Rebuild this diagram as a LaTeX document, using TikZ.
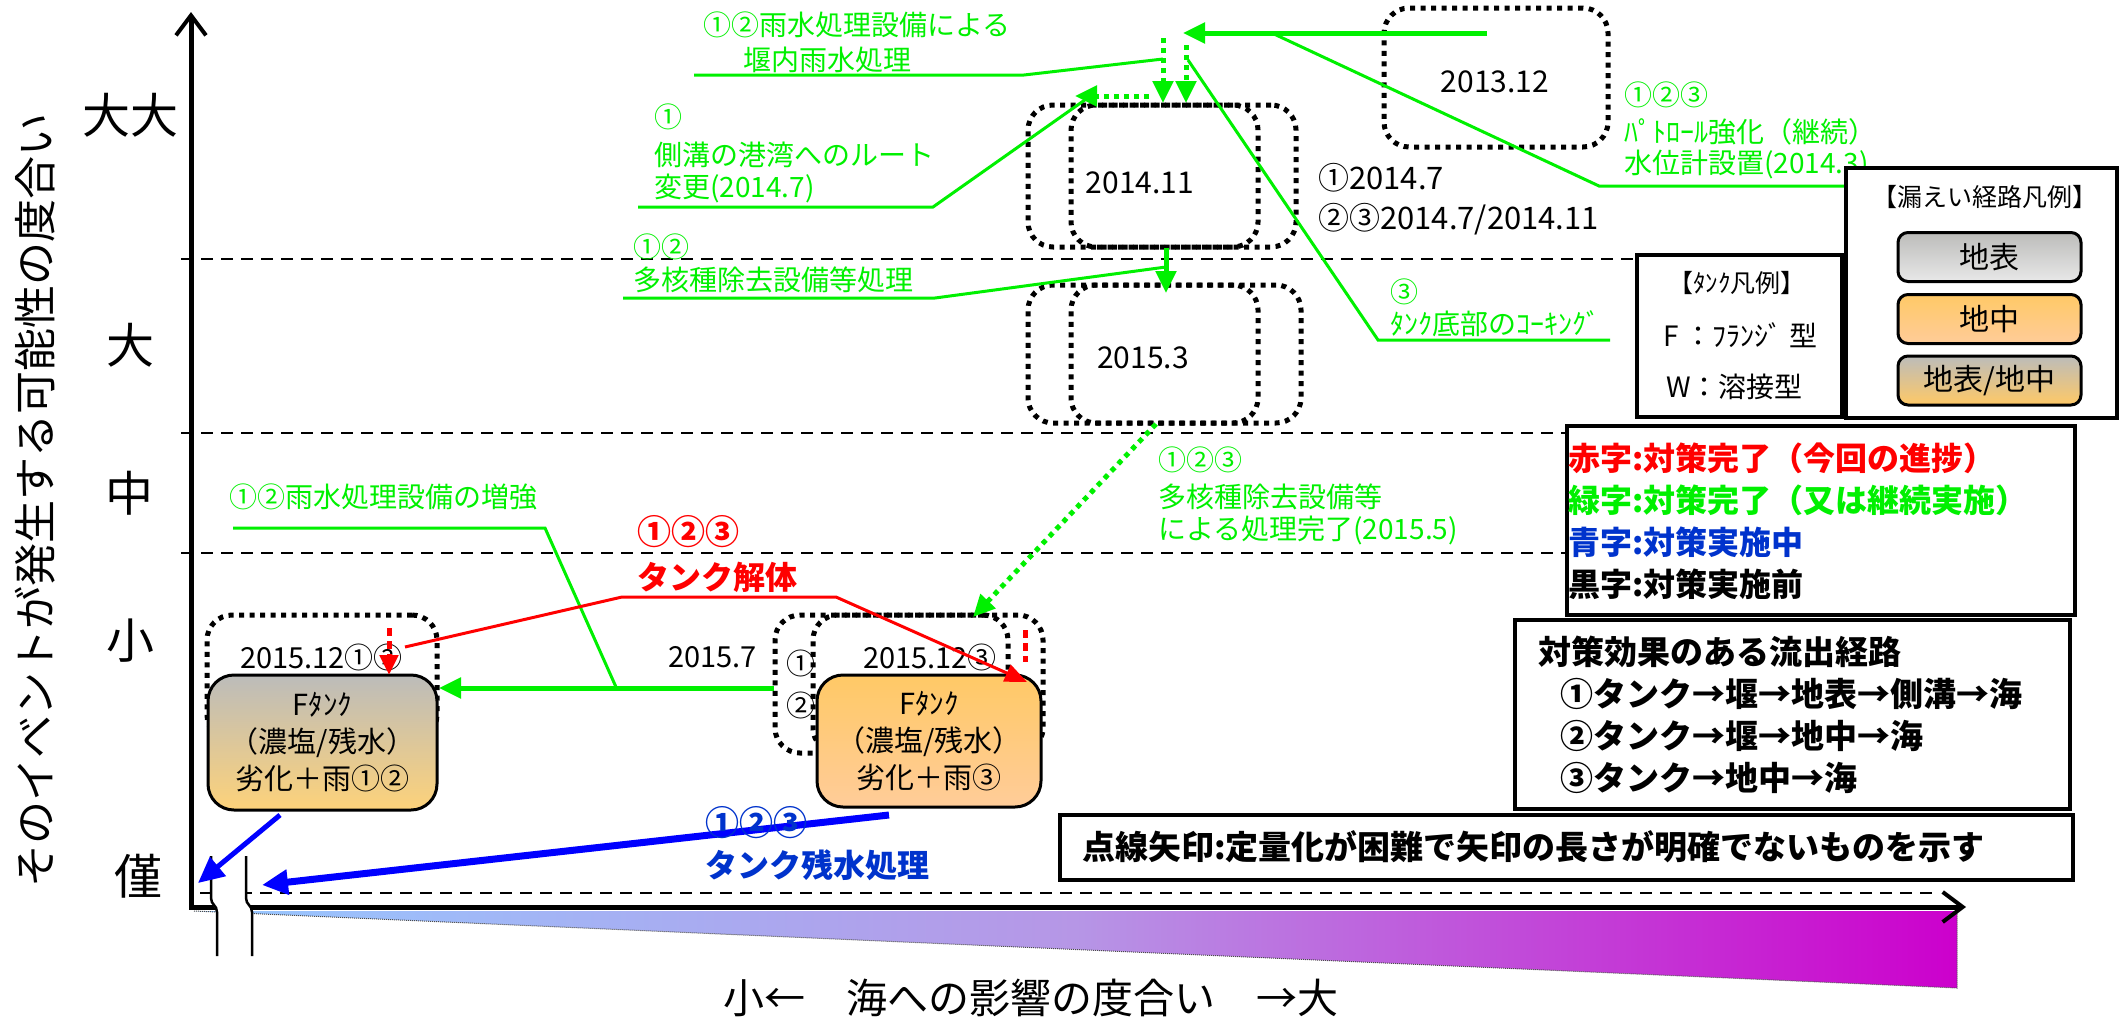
\documentclass[tikz,border=0pt]{standalone}
\usepackage{fontspec}
\setmainfont{Noto Sans CJK JP}
\usetikzlibrary{arrows.meta}
\newcommand{\fsz}[1]{\fontsize{#1}{#1}\selectfont}
\definecolor{grn}{RGB}{0,240,0}
\definecolor{myred}{RGB}{255,0,0}
\definecolor{myblue}{RGB}{0,0,255}
\definecolor{tblue}{RGB}{0,51,204}
\definecolor{gry}{RGB}{188,188,186}
\definecolor{lgry}{RGB}{232,232,232}
\definecolor{org}{RGB}{255,201,102}
\definecolor{peach}{RGB}{255,204,153}
\definecolor{yorg}{RGB}{253,210,122}
\definecolor{gblue}{RGB}{150,200,255}
\definecolor{gmid}{RGB}{182,150,230}
\definecolor{gmag}{RGB}{204,0,204}
\begin{document}
\begin{tikzpicture}[x=1pt,y=-1pt,
 t/.style={inner sep=0pt, anchor=west},
 tc/.style={inner sep=0pt},
 dbox/.style={draw=black, line width=5pt, dash pattern=on 5pt off 5.5pt, rounded corners=25pt, inner sep=0pt},
 lbox/.style={draw=black, line width=3.5pt, inner sep=0pt, fill=white},
 tank/.style={draw=black, line width=3pt, rounded corners=26pt, inner sep=0pt, align=center, font=\fontsize{29}{37}\selectfont},
 sbox/.style={draw=black, line width=3pt, rounded corners=10pt, inner sep=0pt, minimum width=183pt, minimum height=49pt, font=\fsz{30}},
 dsh/.style={line width=2.5pt, dash pattern=on 12pt off 8pt},
 gline/.style={draw=grn, line width=3pt},
 garrow/.style={draw=grn, line width=5pt, -{Triangle[length=22pt,width=20pt]}},
 gdot/.style={draw=grn, line width=5pt, dash pattern=on 5pt off 5pt, -{Triangle[length=22pt,width=20pt]}},
 rline/.style={draw=myred, line width=3pt},
 rdot/.style={draw=myred, line width=5pt, dash pattern=on 8pt off 5pt},
 barrow/.style={draw=myblue, -{Triangle[length=26pt,width=24pt]}}
]
\useasboundingbox (0,0) rectangle (2125,1021);
\fill[white] (0,0) rectangle (2125,1021);

% grid dashed lines
\draw[dsh] (181,259) -- (1637,259);
\draw[dsh] (181,433) -- (1567,433);
\draw[dsh] (181,553) -- (1567,553);
\draw[dsh] (200,893) -- (1932,893);

% gradient wedge
\shade[left color=gblue, right color=gmag, middle color=gmid] (194,911) -- (1957,911) -- (1957,988) -- cycle;
\draw[black!70, line width=1pt, densely dotted] (194,911) -- (1957,988) -- (1957,911);

% axes
\draw[line width=5pt, {Straight Barb[length=20pt,width=30pt,line width=4pt]}-{Straight Barb[length=20pt,width=30pt,line width=4pt]}] (191,12) -- (191,907) -- (1966,907);

% axis break
\fill[white] (210,856) -- (210,898) .. controls (210,905) and (216,905) .. (216,912) -- (216,956) -- (252,956) -- (252,912) .. controls (252,905) and (246,905) .. (246,898) -- (246,856) -- cycle;
\draw[line width=2.5pt] (211,856) -- (211,898) .. controls (211,905) and (217,905) .. (217,912) -- (217,956);
\draw[line width=2.5pt] (246,856) -- (246,898) .. controls (246,905) and (252,905) .. (252,912) -- (252,956);

% axis texts
\node[tc, rotate=90, font=\fsz{43}] (ytitle) at (35,500) {そのイベントが発生する可能性の度合い};
\node[tc, font=\fsz{48}] (lv5) at (130,115) {大大};
\node[tc, font=\fsz{48}] (lv4) at (130,345) {大};
\node[tc, font=\fsz{48}] (lv3) at (129,493) {中};
\node[tc, font=\fsz{48}] (lv2) at (130,641) {小};
\node[tc, font=\fsz{48}] (lv1) at (138,876) {僅};
\node[tc, font=\fsz{41}] (xtitle) at (1031,998) {小←　海への影響の度合い　→大};

% dotted boxes
\node[dbox, minimum width=224pt, minimum height=139pt] (b1312) at (1496,77.5) {};
\node[tc, font=\fsz{30}] (t1312) at (1495,82) {2013.12};
\node[dbox, minimum width=230pt, minimum height=142pt] (b1411a) at (1143,176) {};
\node[dbox, minimum width=225pt, minimum height=142pt] (b1411b) at (1183.5,176) {};
\node[tc, font=\fsz{30}] (t1411) at (1140,183) {2014.11};
\node[dbox, minimum width=230pt, minimum height=138pt] (b153a) at (1143,354) {};
\node[dbox, minimum width=230pt, minimum height=138pt] (b153b) at (1186,354) {};
\node[tc, font=\fsz{30}] (t153) at (1143,358) {2015.3};
\node[t, font=\fsz{31}] (d1) at (1318,178) {①2014.7};
\node[t, font=\fsz{31}] (d2) at (1318,219) {②③2014.7/2014.11};

\node[dbox, minimum width=230pt, minimum height=125pt] (bl) at (322,677.5) {};
\node[t, font=\fsz{29}] (tl1512) at (240,657) {2015.12①②};
\node[dbox, minimum width=233pt, minimum height=138pt] (brc) at (891.5,684) {};
\node[dbox, minimum width=230pt, minimum height=138pt] (brd) at (928,684) {};
\node[t, font=\fsz{29}] (tr1) at (786,663) {①};
\node[t, font=\fsz{29}] (tr2) at (786,705) {②};
\node[t, font=\fsz{29}] (tr1512) at (863,657) {2015.12③};
\node[t, font=\fsz{29}] (t157) at (668,657) {2015.7};

% tanks
\node[tank, top color=gry, bottom color=yorg, minimum width=229pt, minimum height=135pt] (ltank) at (322.5,742.5) {Fﾀﾝｸ\\（濃塩/残水）\\劣化＋雨①②};
\node[tank, top color=org, bottom color=peach, minimum width=224pt, minimum height=132pt] (rtank) at (929,741) {Fﾀﾝｸ\\（濃塩/残水）\\劣化＋雨③};

% connector coordinates
\coordinate (ga0) at (1487,33); \coordinate (ga1) at (1183,33);
\coordinate (gd1a) at (1163,38); \coordinate (gd1b) at (1163,103);
\coordinate (gd2a) at (1186,45); \coordinate (gd2b) at (1186,103);
\coordinate (gl0) at (1149,96); \coordinate (gl1) at (1075,96);
\coordinate (gv0) at (1166,248); \coordinate (gv1) at (1166,293);
\coordinate (gg0) at (1156,424); \coordinate (gg1) at (973,617);
\coordinate (gh0) at (774,688); \coordinate (gh1) at (439,688);
\coordinate (c1a) at (694,75); \coordinate (c1b) at (1024,75); \coordinate (c1c) at (1163,59);
\coordinate (c2a) at (638,207); \coordinate (c2b) at (933,207); \coordinate (c2c) at (1089,97);
\coordinate (c3a) at (623,298); \coordinate (c3b) at (935,298); \coordinate (c3c) at (1166,267);
\coordinate (c4a) at (1274,34); \coordinate (c4b) at (1599,186); \coordinate (c4c) at (1860,186);
\coordinate (c5a) at (1188,60); \coordinate (c5b) at (1378,340); \coordinate (c5c) at (1610,340);
\coordinate (c6a) at (233,528); \coordinate (c6b) at (545,528); \coordinate (c6c) at (616,687);
\coordinate (r0) at (405,647); \coordinate (r1) at (622,597); \coordinate (r2) at (836,597); \coordinate (r3) at (1027,682);
\coordinate (rd0) at (389,628); \coordinate (rd1) at (389,675);
\coordinate (rd2) at (1025,630); \coordinate (rd3) at (1025,662);
\coordinate (bb0) at (280,815); \coordinate (bb1) at (198,883);
\coordinate (bc0) at (889,815); \coordinate (bc1) at (262,885);

% green connectors
\draw[garrow] (ga0) -- (ga1);
\draw[gdot] (gd1a) -- (gd1b);
\draw[gdot] (gd2a) -- (gd2b);
\draw[gdot] (gl0) -- (gl1);
\draw[garrow] (gv0) -- (gv1);
\draw[gdot] (gg0) -- (gg1);
\draw[garrow] (gh0) -- (gh1);
\draw[gline] (c1a) -- (c1b) -- (c1c);
\draw[gline] (c2a) -- (c2b) -- (c2c);
\draw[gline] (c3a) -- (c3b) -- (c3c);
\draw[gline] (c4a) -- (c4b) -- (c4c);
\draw[gline] (c5a) -- (c5b) -- (c5c);
\draw[gline] (c6a) -- (c6b) -- (c6c);

% red connectors
\draw[rline, -{Triangle[length=22pt,width=18pt]}] (r0) -- (r1) -- (r2) -- (r3);
\draw[rdot, -{Triangle[length=20pt,width=18pt]}] (rd0) -- (rd1);
\draw[rdot] (rd2) -- (rd3);

% blue connectors
\draw[barrow, line width=5pt] (bb0) -- (bb1);
\draw[barrow, line width=7pt] (bc0) -- (bc1);

% green texts
\begin{scope}[every node/.style={t, text=grn, font=\fsz{28}}]
\node (g1) at (703,25) {①②雨水処理設備による};
\node (g2) at (743,60) {堰内雨水処理};
\node (g3) at (654,117) {①};
\node (g4) at (654,155) {側溝の港湾へのルート};
\node (g5) at (654,188) {変更(2014.7)};
\node (g6) at (633,247) {①②};
\node (g7) at (633,280) {多核種除去設備等処理};
\node (g8) at (1624,95) {①②③};
\node (g9) at (1624,132) {ﾊﾟﾄﾛｰﾙ強化（継続）};
\node (g10) at (1624,165) {水位計設置(2014.3)};
\node (g11) at (1390,292) {③};
\node (g12) at (1390,324) {ﾀﾝｸ底部のｺｰｷﾝｸﾞ};
\node (g13) at (1158,460) {①②③};
\node (g14) at (1158,497) {多核種除去設備等};
\node (g15) at (1158,530) {による処理完了(2015.5)};
\node (g16) at (229,497) {①②雨水処理設備の増強};
\end{scope}

% red / blue texts
\node[t, text=myred, font=\bfseries\fsz{34}] (rt1) at (637,532) {①②③};
\node[t, text=myred, font=\bfseries\fsz{32}] (rt2) at (637,577) {タンク解体};
\node[t, text=tblue, font=\bfseries\fsz{34}] (bt1) at (705,823) {①②③};
\node[t, text=tblue, font=\bfseries\fsz{32}] (bt2) at (705,865) {タンク残水処理};

% tank legend
\node[lbox, minimum width=205pt, minimum height=162pt] (tleg) at (1739.5,336) {};
\node[tc, font=\fsz{25}] (tl1) at (1737,283) {【ﾀﾝｸ凡例】};
\node[t, font=\fsz{28}] (tl2) at (1663,335) {F ：ﾌﾗﾝｼﾞ 型};
\node[t, font=\fsz{28}] (tl3) at (1666,387) {W：溶接型};

% leak legend
\node[lbox, minimum width=271pt, minimum height=250pt] (kleg) at (1981.5,293) {};
\node[tc, font=\fsz{25}] (kl0) at (1985,197) {【漏えい経路凡例】};
\node[sbox, top color=gry, bottom color=lgry] (kl1) at (1989.5,257) {地表};
\node[sbox, top color=org, bottom color=peach] (kl2) at (1989.5,319) {地中};
\node[sbox, top color=gry, bottom color=org] (kl3) at (1989.5,380.5) {地表/地中};

% colour legend
\node[lbox, minimum width=508pt, minimum height=189pt] (cleg) at (1821,520.5) {};
\node[t, text=myred, font=\bfseries\fsz{32}] (cl1) at (1568,458) {赤字:対策完了（今回の進捗）};
\node[t, text=grn, font=\bfseries\fsz{32}] (cl2) at (1568,500) {緑字:対策完了（又は継続実施）};
\node[t, text=tblue, font=\bfseries\fsz{32}] (cl3) at (1568,542) {青字:対策実施中};
\node[t, text=black, font=\bfseries\fsz{32}] (cl4) at (1568,584) {黒字:対策実施前};

% route legend
\node[lbox, minimum width=555pt, minimum height=189pt] (rleg) at (1792.5,714.5) {};
\node[t, font=\bfseries\fsz{33}] (rl0) at (1538,652) {対策効果のある流出経路};
\node[t, font=\bfseries\fsz{33}] (rl1) at (1560,694) {①タンク→堰→地表→側溝→海};
\node[t, font=\bfseries\fsz{33}] (rl2) at (1560,736) {②タンク→堰→地中→海};
\node[t, font=\bfseries\fsz{33}] (rl3) at (1560,778) {③タンク→地中→海};

% note
\node[lbox, minimum width=1013pt, minimum height=65pt] (note) at (1566.5,847.5) {};
\node[t, font=\bfseries\fsz{33}] (notet) at (1082,847) {点線矢印:定量化が困難で矢印の長さが明確でないものを示す};
\end{tikzpicture}
\end{document}
